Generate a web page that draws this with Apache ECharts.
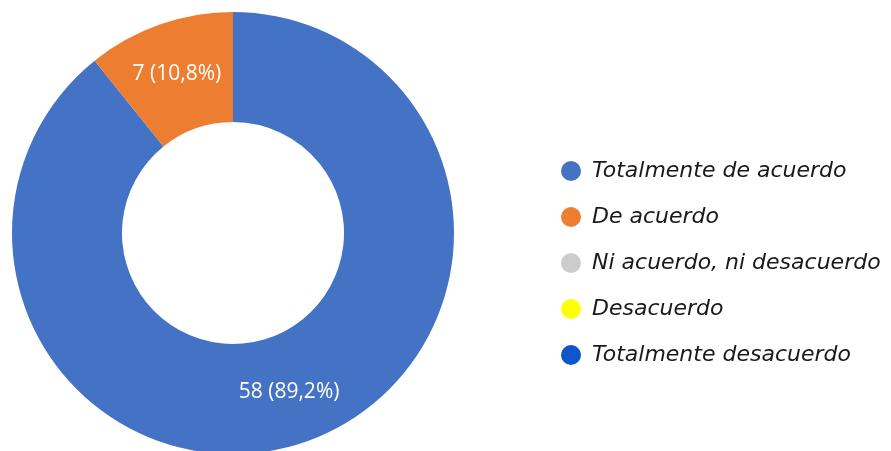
<!DOCTYPE html>
<html>
<head>
<meta charset="utf-8">
<script src="https://cdn.jsdelivr.net/npm/echarts@6/dist/echarts.min.js"></script>
<style>
  html, body { margin: 0; padding: 0; background: #fff; }
  #chart { width: 891px; height: 451px; }
</style>
</head>
<body>
<div id="chart"></div>
<script>
var categories = ['Totalmente de acuerdo', 'De acuerdo', 'Ni acuerdo, ni desacuerdo', 'Desacuerdo', 'Totalmente desacuerdo'];
var counts = [58, 7, 0, 0, 0];
var colors = ['#4472C4', '#ED7D31', '#CCCCCC', '#FFFF00', '#1155CC'];

var chart = echarts.init(document.getElementById('chart'));

var total = counts.reduce(function (a, b) { return a + b; }, 0);
var pieData = categories.map(function (name, i) {
    return { name: name, value: counts[i], itemStyle: { color: colors[i] } };
});

chart.setOption({
    animation: false,
    legend: {
        orient: 'vertical',
        left: 556,
        top: 155,
        icon: 'circle',
        itemWidth: 20,
        itemHeight: 20,
        itemGap: 24,
        data: categories,
        textStyle: {
            fontFamily: 'DejaVu Sans',
            fontStyle: 'italic',
            fontSize: 22,
            color: '#1a1a1a',
            padding: [0, 0, 0, 6]
        }
    },
    series: [{
        type: 'pie',
        center: [233, 233],
        radius: [111, 221],
        startAngle: 90,
        clockwise: true,
        data: pieData,
        label: {
            show: true,
            position: 'inside',
            color: '#fff',
            fontFamily: 'Open Sans',
            fontSize: 21,
            formatter: function (p) {
                if (!p.value) return '';
                var pct = (p.value / total * 100).toFixed(1).replace('.', ',');
                return p.value + ' (' + pct + '%)';
            }
        },
        labelLine: { show: false },
        emphasis: { disabled: true }
    }]
});
</script>
</body>
</html>
